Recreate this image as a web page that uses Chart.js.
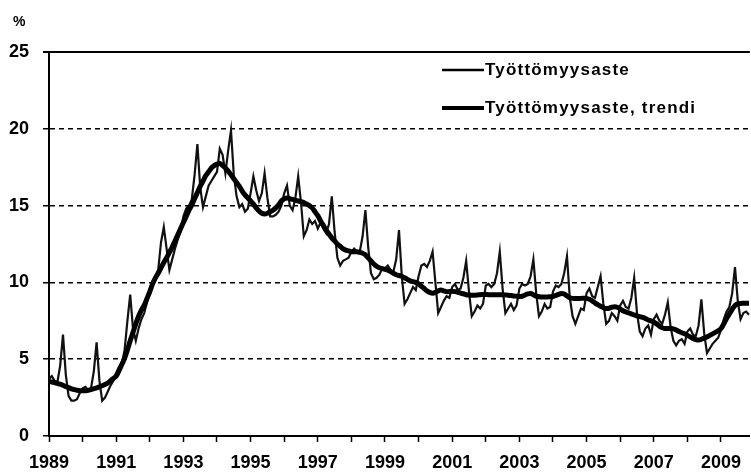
<!DOCTYPE html>
<html>
<head>
<meta charset="utf-8">
<script src="https://cdn.jsdelivr.net/npm/chart.js@4.4.1/dist/chart.umd.min.js"></script>
<style>
  body { margin: 0; background: #fff; }
</style>
</head>
<body>
<canvas id="unemployment" width="751" height="472"></canvas>
<script>
'use strict'

var firstYear = 1989;
var seriesNames = ['Työttömyysaste', 'Työttömyysaste, trendi'];
var yTicks = [0, 5, 10, 15, 20, 25];

// monthly rate %, Jan 1989 .. Nov 2009, one row per year
var rate = [
  3.7, 3.9, 3.6, 3.5, 4.6, 6.6, 4.0, 2.6, 2.3, 2.3, 2.4, 2.8,
  3.1, 3.2, 3.0, 3.1, 4.2, 6.1, 3.6, 2.3, 2.5, 2.9, 3.3, 3.6,
  4.1, 4.5, 4.7, 5.6, 7.5, 9.2, 7.0, 6.2, 7.0, 7.6, 8.0, 8.7,
  9.6, 10.1, 10.4, 10.8, 12.6, 13.6, 12.2, 10.8, 11.5, 12.2, 12.8, 13.3,
  14.3, 14.8, 15.0, 15.4, 17.0, 19.0, 16.2, 14.9, 15.6, 16.3, 16.6, 16.9,
  17.2, 18.7, 18.3, 17.1, 18.6, 19.9, 17.0, 15.6, 14.9, 15.1, 14.6, 14.8,
  15.8, 16.9, 16.0, 15.3, 15.8, 17.1, 15.5, 14.3, 14.3, 14.4, 14.6, 15.0,
  15.8, 16.3, 15.0, 14.7, 15.5, 16.9, 15.2, 13.0, 13.4, 14.1, 13.8, 14.0,
  13.5, 13.9, 13.5, 13.2, 13.8, 15.6, 13.3, 11.6, 11.1, 11.4, 11.5, 11.6,
  12.0, 12.2, 12.0, 12.0, 13.0, 14.7, 12.3, 10.6, 10.2, 10.3, 10.5, 10.9,
  10.9, 11.1, 10.8, 10.7, 11.5, 13.4, 10.4, 8.6, 8.9, 9.3, 9.7, 9.5,
  10.4, 11.1, 11.2, 11.0, 11.4, 12.0, 10.0, 8.0, 8.4, 8.8, 9.1, 9.0,
  9.7, 9.9, 9.5, 9.6, 10.3, 11.4, 9.4, 7.8, 8.1, 8.5, 8.3, 8.6,
  9.8, 9.9, 9.7, 9.9, 10.6, 12.0, 9.6, 8.0, 8.3, 8.6, 8.2, 8.5,
  9.6, 9.9, 9.8, 9.9, 10.4, 11.5, 9.3, 7.8, 8.1, 8.6, 8.3, 8.4,
  9.4, 9.8, 9.7, 9.9, 10.6, 11.7, 9.0, 7.8, 7.3, 7.8, 8.3, 8.2,
  9.3, 9.6, 9.1, 9.0, 9.7, 10.4, 8.6, 7.3, 7.5, 8.0, 7.8, 7.5,
  8.5, 8.8, 8.4, 8.3, 9.0, 10.3, 8.0, 6.8, 6.5, 7.0, 7.2, 6.6,
  7.6, 7.9, 7.5, 7.3, 7.9, 8.7, 7.1, 6.2, 5.9, 6.2, 6.3, 6.0,
  6.8, 7.0, 6.6, 6.5, 7.2, 8.9, 6.7, 5.4, 5.7, 6.0, 6.2, 6.4,
  6.9, 7.6, 8.1, 8.4, 9.3, 11.0, 8.8, 7.6, 8.0, 8.1, 7.9
];

// trend %, same months
var trend = [
  3.55, 3.52, 3.48, 3.42, 3.37, 3.3, 3.22, 3.15, 3.07, 3.02, 2.98, 2.95,
  2.94, 2.95, 2.97, 3.02, 3.08, 3.13, 3.2, 3.27, 3.35, 3.45, 3.6, 3.75,
  3.9, 4.25, 4.65, 5.05, 5.6, 6.2, 6.75, 7.3, 7.8, 8.2, 8.5, 8.95,
  9.4, 9.9, 10.3, 10.6, 10.95, 11.3, 11.6, 11.95, 12.3, 12.7, 13.1, 13.5,
  13.9, 14.3, 14.7, 15.05, 15.45, 15.85, 16.25, 16.6, 16.95, 17.2, 17.45, 17.6,
  17.7, 17.75, 17.6, 17.45, 17.25, 17.0, 16.75, 16.5, 16.25, 15.95, 15.7, 15.5,
  15.3, 15.1, 14.85, 14.65, 14.5, 14.45, 14.5, 14.6, 14.7, 14.85, 15.05, 15.3,
  15.45, 15.5, 15.45, 15.4, 15.35, 15.3, 15.25, 15.2, 15.1, 15.0, 14.85, 14.6,
  14.35, 14.0, 13.7, 13.4, 13.15, 12.9, 12.7, 12.5, 12.35, 12.2, 12.1, 12.05,
  12.0, 12.0, 12.0, 11.95, 11.9, 11.8, 11.6, 11.4, 11.2, 11.05, 10.95, 10.9,
  10.85, 10.8, 10.7, 10.6, 10.5, 10.45, 10.4, 10.3, 10.2, 10.1, 10.05, 10.0,
  9.9, 9.75, 9.6, 9.45, 9.35, 9.3, 9.35, 9.45, 9.5, 9.45, 9.4, 9.4,
  9.42, 9.4, 9.36, 9.3, 9.26, 9.2, 9.18, 9.17, 9.17, 9.18, 9.2, 9.21,
  9.22, 9.2, 9.2, 9.2, 9.2, 9.2, 9.2, 9.18, 9.17, 9.15, 9.12, 9.1,
  9.08, 9.1, 9.18, 9.25, 9.28, 9.2, 9.1, 9.07, 9.05, 9.05, 9.05, 9.07,
  9.08, 9.15, 9.22, 9.28, 9.25, 9.12, 9.0, 8.96, 8.95, 8.95, 8.96, 8.96,
  8.96, 8.9, 8.8, 8.67, 8.55, 8.45, 8.35, 8.3, 8.32, 8.38, 8.42, 8.38,
  8.28, 8.15, 8.08, 8.02, 7.95, 7.88, 7.82, 7.77, 7.72, 7.65, 7.55, 7.5,
  7.42, 7.3, 7.15, 7.05, 7.0, 7.0, 7.0, 6.98, 6.9, 6.8, 6.72, 6.65,
  6.55, 6.45, 6.35, 6.28, 6.25, 6.3, 6.38, 6.45, 6.55, 6.65, 6.75, 6.85,
  7.0, 7.3, 7.65, 7.95, 8.25, 8.5, 8.6, 8.63, 8.64, 8.65, 8.65
];

var monthlyPoints = [];
var trendPoints = [];
for (var i = 0; i < rate.length; i++) {
  monthlyPoints.push({x: firstYear + i / 12, y: rate[i]});
  trendPoints.push({x: firstYear + i / 12, y: trend[i]});
}

var fontName = '"Liberation Sans", Arial, sans-serif';

// "%" unit and the legend inside the plot, top right
var extraText = {
  id: 'extraText',
  afterDraw: function (chart) {
    var ctx = chart.ctx;
    ctx.save();
    ctx.fillStyle = '#000';
    ctx.textBaseline = 'middle';
    ctx.font = 'bold 14px ' + fontName;
    ctx.fillText('%', 13, 22);
    ctx.font = 'bold 17px ' + fontName;
    ctx.letterSpacing = '1.2px';
    chart.data.datasets.forEach(function (ds, k) {
      var y = 70 + k * 38;
      ctx.lineWidth = k === 0 ? 2.5 : 4;
      ctx.strokeStyle = '#000';
      ctx.beginPath();
      ctx.moveTo(442, y);
      ctx.lineTo(484, y);
      ctx.stroke();
      ctx.fillText(ds.label, 485, y);
    });
    ctx.restore();
  }
};

var chart = new Chart(document.getElementById('unemployment'), {
  type: 'line',
  data: {
    datasets: [
      {
        label: seriesNames[0],
        data: monthlyPoints,
        borderColor: '#111',
        borderWidth: 2.2,
        pointRadius: 0,
        tension: 0,
        order: 2
      },
      {
        label: seriesNames[1],
        data: trendPoints,
        borderColor: '#000',
        borderWidth: 5,
        pointRadius: 0,
        tension: 0.3,
        order: 1
      }]
  },
  options: {
    responsive: false,
    animation: false,
    layout: {
      padding: {top: 52, right: 0, bottom: 0, left: 0}
    },
    plugins: {
      legend: {display: false},
      tooltip: {enabled: false}
    },
    scales: {
      x: {
        type: 'linear',
        min: 1989,
        max: 2009.86,
        afterFit: function (scale) { scale.height = 36; },
        grid: {
          drawOnChartArea: false,
          drawTicks: true,
          tickLength: 6,
          tickColor: '#000',
          tickWidth: 1.5
        },
        border: {display: true, color: '#000', width: 2},
        ticks: {
          stepSize: 1,
          includeBounds: false,
          autoSkip: false,
          maxRotation: 0,
          padding: 10,
          color: '#000',
          font: {family: fontName, size: 18, weight: 'bold'},
          callback: function (value) {
            return value % 2 === 1 ? String(value) : '';
          }
        }
      },
      y: {
        min: 0,
        max: 25,
        afterFit: function (scale) { scale.width = 49; },
        afterBuildTicks: function (scale) {
          scale.ticks = yTicks.map(function (v) { return {value: v}; });
        },
        grid: {
          color: '#000',
          lineWidth: function (c) { return c.tick && c.tick.value === 25 ? 2 : 1.5; },
          tickLength: 6
        },
        border: {
          display: true,
          color: '#000',
          width: 2,
          dash: function (c) {
            if (!c.tick || c.tick.value === 0 || c.tick.value === 25) return [];
            return [5, 4];
          }
        },
        ticks: {
          padding: 14,
          color: '#000',
          font: {family: fontName, size: 18, weight: 'bold'}
        }
      }
    }
  },
  plugins: [extraText]
});
</script>
</body>
</html>
